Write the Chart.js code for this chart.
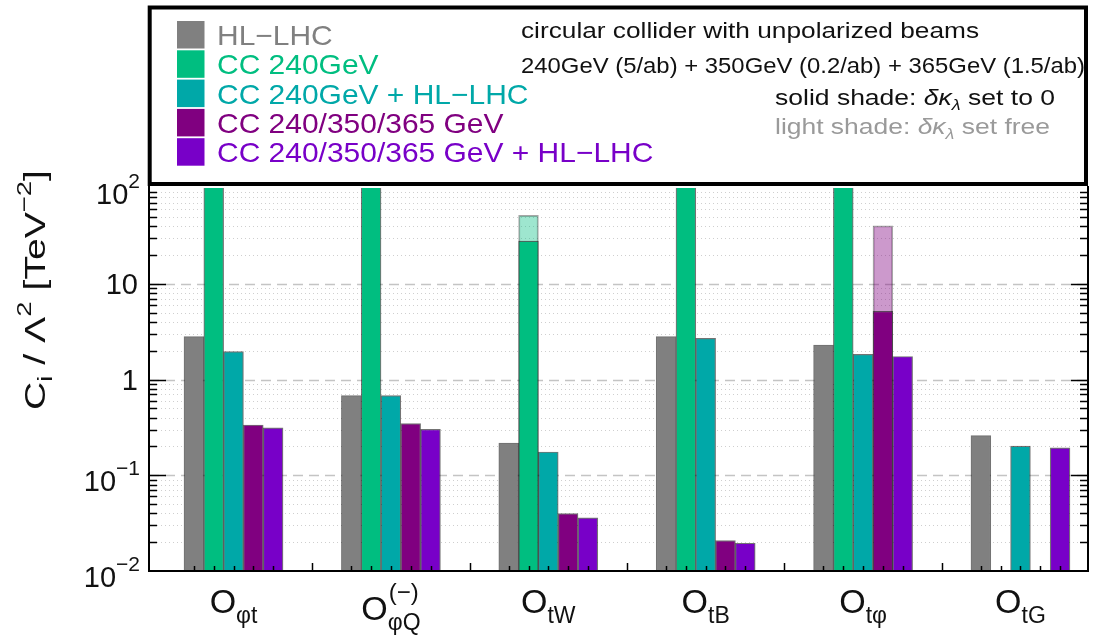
<!DOCTYPE html>
<html>
<head>
<meta charset="utf-8">
<script src="https://cdn.jsdelivr.net/npm/chart.js@4/dist/chart.umd.min.js"></script>
<style>
  html, body { margin: 0; padding: 0; background: #fff; }
  #wrap { width: 1099px; height: 637px; position: relative; }
</style>
</head>
<body>
<div id="wrap"><canvas id="c"></canvas></div>
<script>
// Operators on the x axis: main symbol "O" with subscript / superscript
const operators = ['Oφt', 'OφQ', 'OtW', 'OtB', 'Otφ', 'OtG'];
const opSub = ['φt', 'φQ', 'tW', 'tB', 'tφ', 'tG'];
const opSup = ['', '(−)', '', '', '', ''];

const seriesNames = ['HL−LHC', 'CC 240GeV', 'CC 240GeV + HL−LHC',
                     'CC 240/350/365 GeV', 'CC 240/350/365 GeV + HL−LHC'];
const seriesColors = ['#808080', '#00be80', '#00a8a8', '#800080', '#7800c8'];

// C_i / Λ^2 reach [TeV^-2], δκλ set to 0 (solid shade)
const hlLhc   = [2.8, 0.68, 0.217, 2.8, 2.29, 0.26];
const cc240   = [1000, 1000, 27.9, 1000, 1000, null];
const cc240Hl = [1.96, 0.68, 0.175, 2.69, 1.83, 0.202];
const cc365   = [0.335, 0.346, 0.0398, 0.0208, 5.15, null];
const cc365Hl = [0.312, 0.302, 0.0359, 0.0195, 1.74, 0.193];
// δκλ set free (light shade)
const cc240Free = [null, null, 51.8, null, null, null];
const cc365Free = [null, null, null, null, 40.3, null];

// y tick labels: mantissa and exponent
const yTickValues = [0.01, 0.1, 1, 10, 100];
const yTickBase   = ['10', '10', '1', '10', '10'];
const yTickExp    = ['−2', '−1', '', '', '2'];

const series = [hlLhc, cc240, cc240Hl, cc365, cc365Hl];
const FONT = "'Liberation Sans', Arial, Helvetica, sans-serif";

function points(arr) { return arr.map((v, i) => ({ x: i, y: v })); }

const datasets = series.map((vals, k) => ({
  label: seriesNames[k],
  data: points(vals),
  backgroundColor: seriesColors[k],
  borderColor: 'rgba(0,0,0,0.55)',
  borderWidth: 1.2,
  borderSkipped: 'start',
  stack: 's' + k,
  order: 0,
  clip: 0
}));
datasets.push({
  label: 'CC 240GeV (δκλ free)',
  data: points(cc240Free),
  backgroundColor: 'rgba(0,190,128,0.38)',
  borderColor: 'rgba(0,0,0,0.35)',
  borderWidth: 1.2,
  stack: 's1',
  order: 1,
  clip: 0
});
datasets.push({
  label: 'CC 240/350/365 GeV (δκλ free)',
  data: points(cc365Free),
  backgroundColor: 'rgba(128,0,128,0.4)',
  borderColor: 'rgba(0,0,0,0.35)',
  borderWidth: 1.2,
  stack: 's3',
  order: 1,
  clip: 0
});

// ---- rich text helpers (sub/superscripts, horizontal fitting) ----
function setFont(ctx, s) { ctx.font = (s.italic ? 'italic ' : '') + s.size + 'px ' + FONT; }
function segWidth(ctx, s) { setFont(ctx, s); return ctx.measureText(s.t).width; }
function richWidth(ctx, segs) { return segs.reduce((w, s) => w + segWidth(ctx, s), 0); }
function drawRich(ctx, segs, x, y, opt) {
  opt = opt || {};
  const natural = richWidth(ctx, segs);
  const k = opt.fit ? opt.fit / natural : (opt.sx || 1);
  const total = natural * k;
  const x0 = opt.align === 'center' ? x - total / 2 : opt.align === 'right' ? x - total : x;
  ctx.save();
  ctx.translate(x0, y);
  ctx.scale(k, 1);
  ctx.textAlign = 'left';
  ctx.textBaseline = 'alphabetic';
  let cx = 0;
  for (const s of segs) {
    setFont(ctx, s);
    ctx.fillStyle = s.color || opt.color || '#000';
    ctx.fillText(s.t, cx, s.dy || 0);
    cx += ctx.measureText(s.t).width;
  }
  ctx.restore();
}

// ---- grid: dashed decades, dotted sub-decades ----
const gridPlugin = {
  id: 'logGrid',
  beforeDatasetsDraw(chart) {
    const { ctx, chartArea: a, scales: { y } } = chart;
    ctx.save();
    for (let d = -2; d <= 1; d++) {
      for (let k = 1; k <= 9; k++) {
        const v = k * Math.pow(10, d);
        if (v <= y.min * 1.0001 || v >= y.max * 0.9999) continue;
        const py = Math.round(y.getPixelForValue(v)) + 0.5;
        if (k === 1) {
          ctx.strokeStyle = '#c4c4c4';
          ctx.lineWidth = 1.5;
          ctx.setLineDash([10, 6]);
        } else {
          ctx.strokeStyle = '#cfcfcf';
          ctx.lineWidth = 1;
          ctx.setLineDash([1, 3]);
        }
        ctx.beginPath();
        ctx.moveTo(a.left, py);
        ctx.lineTo(a.right, py);
        ctx.stroke();
      }
    }
    ctx.restore();
  }
};

// ---- frame, ticks, tick labels, axis labels ----
const framePlugin = {
  id: 'frame',
  afterDatasetsDraw(chart) {
    const { ctx, chartArea: a, scales: { x, y } } = chart;
    ctx.save();
    ctx.strokeStyle = '#000';
    ctx.setLineDash([]);

    // y ticks on both sides, pointing inward
    ctx.lineWidth = 1.5;
    for (let d = -2; d <= 1; d++) {
      for (let k = 1; k <= 9; k++) {
        const v = k * Math.pow(10, d);
        if (v <= y.min * 1.0001 || v >= y.max * 0.9999) continue;
        const py = Math.round(y.getPixelForValue(v)) + 0.5;
        const len = k === 1 ? 17 : 8;
        ctx.beginPath();
        ctx.moveTo(a.left, py); ctx.lineTo(a.left + len, py);
        ctx.moveTo(a.right, py); ctx.lineTo(a.right - len, py);
        ctx.stroke();
      }
    }

    // x ticks: one under every bar slot, a taller one between operators
    for (let k = 0; k < series.length; k++) {
      const meta = chart.getDatasetMeta(k);
      meta.data.forEach((bar) => {
        const px = Math.round(bar.x) + 0.5;
        ctx.beginPath(); ctx.moveTo(px, a.bottom); ctx.lineTo(px, a.bottom - 5); ctx.stroke();
      });
    }
    for (let i = 0; i < operators.length - 1; i++) {
      const px = Math.round(x.getPixelForValue(i + 0.5)) + 0.5;
      ctx.beginPath(); ctx.moveTo(px, a.bottom); ctx.lineTo(px, a.bottom - 8); ctx.stroke();
    }

    // axis lines
    ctx.lineWidth = 2;
    ctx.beginPath();
    ctx.moveTo(a.left, a.top - 2); ctx.lineTo(a.left, a.bottom);
    ctx.lineTo(a.right, a.bottom); ctx.lineTo(a.right, a.top - 2);
    ctx.stroke();

    // y tick labels
    yTickValues.forEach((v, i) => {
      const py = y.getPixelForValue(v);
      if (yTickExp[i]) {
        drawRich(ctx, [
          { t: yTickBase[i], size: 29 },
          { t: yTickExp[i], size: 21, dy: -16 }
        ], 140, py + 15.5, { align: 'right', color: '#111' });
      } else {
        drawRich(ctx, [{ t: yTickBase[i], size: 29 }], 138, py + 10.5, { align: 'right', color: '#111' });
      }
    });

    // x labels: O with subscript (and superscript)
    operators.forEach((op, i) => {
      const cx = x.getPixelForValue(i);
      const main = { t: 'O', size: 34 };
      const sub = { t: opSub[i], size: 23 };
      const sup = { t: opSup[i], size: 24 };
      const wO = segWidth(ctx, main);
      const wSub = segWidth(ctx, sub);
      const wSup = opSup[i] ? segWidth(ctx, sup) : 0;
      const w = wO + Math.max(wSub, wSup);
      const x0 = cx - w / 2;
      const base = opSup[i] ? 620 : 613;
      drawRich(ctx, [main], x0, base, { color: '#111' });
      drawRich(ctx, [sub], x0 + wO, base + (opSup[i] ? 10 : 9.5), { color: '#111' });
      if (opSup[i]) drawRich(ctx, [sup], x0 + wO + 1, base - 20, { color: '#111' });
    });

    // y axis title
    ctx.save();
    ctx.translate(45, 290);
    ctx.rotate(-Math.PI / 2);
    drawRich(ctx, [
      { t: 'C', size: 30 },
      { t: 'i', size: 21, dy: 7 },
      { t: ' / Λ', size: 30 },
      { t: '2', size: 21, dy: -14 },
      { t: ' [TeV', size: 30 },
      { t: '−2', size: 21, dy: -14 },
      { t: ']', size: 30 }
    ], 0, 0, { align: 'center', fit: 240, color: '#111' });
    ctx.restore();

    ctx.restore();
  }
};

// ---- legend box with the run description ----
const legendPlugin = {
  id: 'legendBox',
  afterDraw(chart) {
    const { ctx } = chart;
    ctx.save();
    const L = 149.7, T = 7.5, R = 1086, B = 184;
    ctx.fillStyle = '#fff';
    ctx.fillRect(L, T, R - L, B - T);
    ctx.strokeStyle = '#000';
    ctx.lineWidth = 4;
    ctx.setLineDash([]);
    ctx.strokeRect(L, T, R - L, B - T);

    seriesNames.forEach((name, k) => {
      const top = 21 + k * 29.3;
      ctx.fillStyle = seriesColors[k];
      ctx.fillRect(177, top, 27.5, 27.5);
      drawRich(ctx, [{ t: name, size: 28, color: seriesColors[k] }], 217, 45 + k * 29.3, { sx: 1.07 });
    });

    drawRich(ctx, [{ t: 'circular collider with unpolarized beams', size: 22 }],
      521, 38, { fit: 458, color: '#111' });
    drawRich(ctx, [{ t: '240GeV (5/ab) + 350GeV (0.2/ab) + 365GeV (1.5/ab)', size: 22 }],
      521, 73, { fit: 564, color: '#111' });
    drawRich(ctx, [
      { t: 'solid shade: ', size: 22 },
      { t: 'δκ', size: 22, italic: true },
      { t: 'λ', size: 15, dy: 5, italic: true },
      { t: ' set to 0', size: 22 }
    ], 775, 105, { fit: 280, color: '#111' });
    drawRich(ctx, [
      { t: 'light shade: ', size: 22 },
      { t: 'δκ', size: 22, italic: true },
      { t: 'λ', size: 15, dy: 5, italic: true },
      { t: ' set free', size: 22 }
    ], 775, 134, { fit: 275, color: '#9a9a9a' });
    ctx.restore();
  }
};

new Chart(document.getElementById('c'), {
  type: 'bar',
  data: { datasets },
  options: {
    responsive: true,
    maintainAspectRatio: false,
    animation: false,
    layout: { padding: { left: 149, right: 11, top: 188, bottom: 66 } },
    datasets: { bar: { barThickness: 19.8, grouped: true } },
    scales: {
      x: {
        type: 'linear',
        min: -0.537,
        max: 5.429,
        offset: false,
        display: false
      },
      y: {
        type: 'logarithmic',
        min: 0.01,
        max: 100,
        stacked: false,
        display: false
      }
    },
    plugins: {
      legend: { display: false },
      tooltip: { enabled: false }
    }
  },
  plugins: [gridPlugin, framePlugin, legendPlugin]
});
</script>
</body>
</html>
